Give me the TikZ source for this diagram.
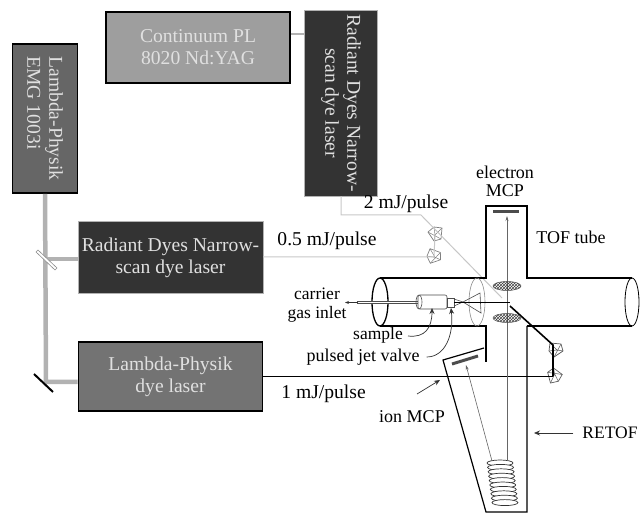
\documentclass[tikz,border=0pt]{standalone}
\usepackage{fontspec}
\setmainfont{Liberation Serif}
\usetikzlibrary{arrows.meta, patterns, calc}
\definecolor{yagfill}{gray}{0.62}
\definecolor{emgfill}{gray}{0.40}
\definecolor{radfill}{gray}{0.20}
\definecolor{lamfill}{gray}{0.45}
\definecolor{boxtext}{gray}{0.88}
\definecolor{pumpbeam}{gray}{0.70}
\definecolor{dyebeam}{gray}{0.78}

\begin{document}
\begin{tikzpicture}[x=1pt, y=-1pt,
    laserbox/.style={draw=black, line width=1.6pt, align=center, text=boxtext, font=\fontsize{19.6}{22}\selectfont, inner sep=0pt},
    plainbox/.style={laserbox, draw=gray!60, line width=0.4pt},
    lbl/.style={align=center, font=\fontsize{18}{18}\selectfont, inner sep=0pt},
    pulselbl/.style={lbl, font=\fontsize{19.6}{20}\selectfont},
    pump/.style={pumpbeam, line width=4.5pt},
    dye/.style={dyebeam, line width=1pt},
    wall/.style={black, line width=1.2pt},
    thinpart/.style={black!70, line width=0.6pt},
    pointer/.style={black!80, line width=0.7pt, -{Stealth[length=6pt, width=5pt]}},
    flight/.style={black!60, line width=0.6pt, -{Stealth[length=5pt, width=3pt]}},
    mesh/.style={draw=black!70, line width=0.5pt, pattern=crosshatch, pattern color=black!75},
    prism/.pic={
        \draw[pic actions, line width=0.7pt, line join=round] (-7,-2) -- (-1,-7) -- (7,-6) -- (6,5) -- (-1,7) -- cycle;
        \draw[pic actions, line width=0.5pt] (-7,-2) -- (6,5) (-1,-7) -- (0,1) -- (7,-6) (0,1) -- (-1,7);
    }]
    \useasboundingbox (0,0) rectangle (641,513);

    % --- LASER BOXES ---
    \node[laserbox, fill=yagfill, minimum width=184pt, minimum height=71pt] (yag) at (198,47.5) {Continuum PL\\ 8020 Nd:YAG};
    \node[plainbox, fill=radfill, minimum width=186pt, minimum height=73pt, rotate=-90] (radtop) at (341,103) {Radiant Dyes Narrow-\\ scan dye laser};
    \node[laserbox, fill=emgfill, minimum width=149pt, minimum height=65pt, rotate=-90, align=left] (emg) at (45,118.5) {Lambda-Physik\\ EMG 1003i};
    \node[plainbox, fill=radfill, minimum width=185pt, minimum height=72pt] (radmid) at (170.5,257.5) {Radiant Dyes Narrow-\\ scan dye laser};
    \node[laserbox, fill=lamfill, minimum width=184pt, minimum height=69pt] (lamdye) at (170.5,376.5) {Lambda-Physik\\ dye laser};

    % --- PUMP BEAMS ---
    \coordinate (split) at (46,259);
    \coordinate (fold) at (46,382);
    \draw[pump, line width=2pt] (yag.east |- 0,34) -- (radtop.south |- 0,34);
    \draw[pump] (emg.east) -- (fold) -- (lamdye.west |- fold);
    \draw[pump] (split) -- (radmid.west |- split);
    \draw[fill=white, draw=black!45, line width=0.6pt] (36,252) -- (38,250) -- (57,268) -- (55,270) -- cycle;
    \draw[black, line width=2pt] (34,374) -- (53,392);

    % --- VISIBLE BEAMS ---
    \coordinate (prismA) at (435,234);
    \coordinate (prismB) at (434,257);
    \coordinate (prismC) at (553,345);
    \coordinate (prismD) at (553,376.5);
    \coordinate (focus) at (502,298);
    \path[draw=black!50] (prismA) pic {prism};
    \path[draw=black!50] (prismB) pic[rotate=75] {prism};
    \path[draw=black!65] (556,350) pic[rotate=90] {prism};
    \path[draw=black!65] (555,375) pic[rotate=200] {prism};
    \draw[dye] (radtop.east) -- (341,215) -- (421,215) -- (focus);
    \draw[dye] (radmid.east |- prismB) -- (prismB) -- (prismA);
    \draw[black, line width=1.2pt] (lamdye.east |- prismD) -- (prismD);
    \draw[black, line width=1.6pt] (prismD) -- (prismC) -- (510,306);

    % --- TOF TUBE ---
    \draw[wall] (380,278) -- (486,278) -- (486,206) -- (527,206) -- (527,278) -- (632,278);
    \draw[wall] (380,326) -- (486,326) -- (486,362);
    \draw[wall] (527,326) -- (632,326);
    \draw[wall, line width=1.3pt] (380,302) ellipse (8 and 24);
    \draw[black, line width=0.8pt] (632,302) ellipse (7 and 24);
    \draw[thinpart, black!45] (477,302) ellipse (8 and 24);

    % --- RETOF ---
    \draw[wall] (484,348) -- (443,360) -- (486,512) -- (527,512) -- (527,326);
    \draw[black!70, line width=3pt] (452,364) -- (478,356);
    \draw[black!70, line width=3pt] (493,212) -- (519,212);
    \foreach \i in {0,...,9} {
        \draw[black!80, line width=0.7pt, fill=white] ({500+0.55*\i},{463+4.4*\i}) ellipse (13 and 3);
    }
    \draw[flight] (507,461) -- (507,216);
    \draw[flight] (492,461) -- (466,365);

    % --- GRIDS ---
    \draw[mesh] (507,286) ellipse (14 and 4.5);
    \draw[mesh] (507,318) ellipse (14 and 4.5);

    % --- JET VALVE ---
    \draw[thinpart, double=white, double distance=1pt] (357,302.5) -- (418,302.5);
    \draw[pointer, -{Stealth[length=4pt, width=3pt]}] (358,302.5) -- (345,302.5);
    \draw[thinpart, fill=white, rounded corners=2pt] (418,295) rectangle (447,309);
    \draw[thinpart] (419,302) ellipse (3 and 7);
    \draw[thinpart, fill=white] (447,298) rectangle (454,307);
    \draw[thinpart] (454,299) -- (463,302) -- (454,306);
    \draw[thinpart] (463,302) -- (480,293) -- (481,313) -- cycle;
    \draw[black, line width=0.8pt] (454,302) -- (510,302);

    % --- LABELS ---
    \node[lbl] (lbelectron) at (505,181) {electron\\ MCP};
    \node[lbl] (lbtof) at (571,237) {TOF tube};
    \node[pulselbl] (lbtwo) at (406,204) {2 mJ/pulse};
    \node[pulselbl] (lbhalf) at (327,241) {0.5 mJ/pulse};
    \node[lbl, font=\fontsize{17.5}{19}\selectfont] (lbgas) at (317,305) {carrier\\ gas inlet};
    \node[lbl, font=\fontsize{17.5}{20}\selectfont] (lbsample) at (378,335) {sample};
    \node[lbl] (lbjet) at (363,357) {pulsed jet valve};
    \node[pulselbl] (lbone) at (323.5,394) {1 mJ/pulse};
    \node[lbl] (lbion) at (412,417) {ion MCP};
    \node[lbl, font=\fontsize{17.5}{20}\selectfont] (lbretof) at (610,433) {RETOF};

    % --- POINTERS ---
    \draw[pointer] (lbsample.east) ++(5,1) .. controls (425,338) and (432,328) .. (432,308);
    \draw[pointer] (lbjet.east) ++(7,0) .. controls (445,357) and (454,335) .. (451,308);
    \draw[pointer] (417,394) -- (440,380);
    \draw[pointer] (lbretof.west) ++(-9,0) -- (534,433);
\end{tikzpicture}
\end{document}
